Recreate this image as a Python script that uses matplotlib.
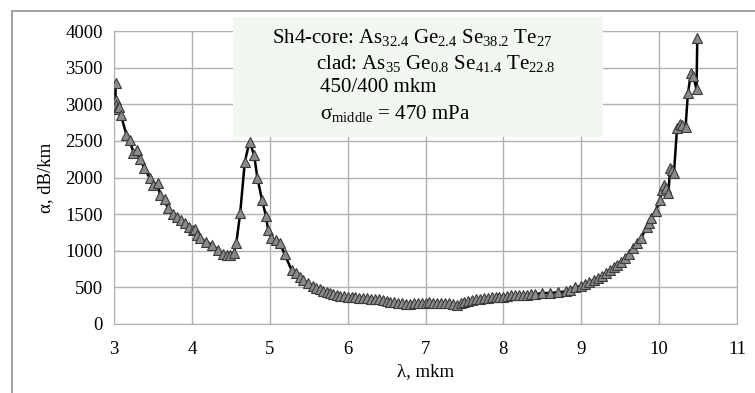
import numpy as np
import matplotlib
matplotlib.use("Agg")
import matplotlib.pyplot as plt
from matplotlib.patches import Rectangle

plt.rcParams['font.family'] = ['Liberation Serif', 'DejaVu Serif']
plt.rcParams['mathtext.fontset'] = 'custom'
plt.rcParams['mathtext.rm'] = 'Liberation Serif'
plt.rcParams['mathtext.it'] = 'Liberation Serif'
plt.rcParams['mathtext.default'] = 'regular'

# wavelength, mkm
lam = [3.02, 3.02, 3.03, 3.04, 3.06, 3.09, 3.16, 3.20, 3.25, 3.30, 3.34, 3.39,
       3.46, 3.50, 3.56, 3.59, 3.65, 3.69, 3.76, 3.81, 3.86, 3.91, 3.96, 4.01,
       4.04, 4.06, 4.10, 4.18, 4.26, 4.34, 4.40, 4.45, 4.49, 4.54, 4.57, 4.62,
       4.68, 4.74, 4.80, 4.84, 4.90, 4.95, 4.98, 5.02, 5.08, 5.13, 5.19, 5.28,
       5.34, 5.39, 5.43, 5.49, 5.56, 5.60, 5.64, 5.69, 5.73, 5.77, 5.81, 5.86,
       5.90, 5.95, 6.00, 6.05, 6.10, 6.15, 6.20, 6.25, 6.30, 6.35, 6.40, 6.45,
       6.50, 6.55, 6.60, 6.65, 6.70, 6.75, 6.80, 6.85, 6.90, 6.95, 7.00, 7.05,
       7.10, 7.15, 7.20, 7.25, 7.30, 7.35, 7.40, 7.45, 7.50, 7.55, 7.60, 7.65,
       7.70, 7.75, 7.80, 7.85, 7.90, 7.95, 8.00, 8.05, 8.10, 8.15, 8.20, 8.25,
       8.30, 8.35, 8.40, 8.50, 8.60, 8.70, 8.80, 8.86, 8.92, 9.00, 9.05, 9.10,
       9.16, 9.22, 9.27, 9.32, 9.37, 9.42, 9.46, 9.51, 9.56, 9.61, 9.67, 9.72,
       9.77, 9.84, 9.87, 9.90, 9.96, 10.01, 10.04, 10.06, 10.09, 10.12, 10.14,
       10.17, 10.19, 10.23, 10.27, 10.30, 10.34, 10.37, 10.41, 10.44, 10.48,
       10.49]

# attenuation, dB/km
alpha = [3290, 3060, 2990, 2930, 2960, 2850, 2580, 2510, 2340, 2375, 2250, 2125,
         1990, 1900, 1920, 1760, 1700, 1580, 1505, 1457, 1420, 1375, 1330, 1290,
         1300, 1215, 1170, 1125, 1080, 1010, 956, 942, 942, 975, 1100, 1510,
         2215, 2490, 2305, 2000, 1695, 1480, 1285, 1170, 1147, 1100, 956, 737,
         692, 638, 600, 564, 519, 495, 474, 455, 441, 425, 410, 395,
         382, 378, 372, 370, 362, 360, 356, 352, 348, 345, 335, 325,
         314, 305, 298, 290, 283, 278, 275, 282, 285, 290, 288, 295,
         290, 285, 282, 290, 280, 270, 265, 280, 300, 315, 325, 335,
         345, 350, 358, 362, 365, 372, 375, 385, 392, 390, 395, 400,
         402, 405, 410, 420, 425, 432, 445, 470, 500, 520, 545, 570,
         600, 625, 650, 700, 737, 780, 805, 850, 897, 950, 1033, 1100,
         1170, 1329, 1380, 1443, 1547, 1693, 1829, 1898, 1850, 1784, 2125,
         2100, 2057, 2672, 2730, 2720, 2694, 3150, 3431, 3380, 3204,
         3900]

xticks = [3, 4, 5, 6, 7, 8, 9, 10, 11]
yticks = [0, 500, 1000, 1500, 2000, 2500, 3000, 3500, 4000]

W, H = 755, 393
fig = plt.figure(figsize=(W / 100, H / 100), dpi=100)
ax = fig.add_axes([114 / W, 1 - 324 / H, (737 - 114) / W, (324 - 31) / H])

ax.plot(lam, alpha, color='black', lw=1.8, marker='^', markersize=7,
        markerfacecolor='#8a8a8a', markeredgecolor='#3a3a3a', markeredgewidth=0.8,
        zorder=3)

ax.set_xlim(3, 11)
ax.set_ylim(0, 4000)
ax.set_xticks(xticks)
ax.set_yticks(yticks)
ax.grid(True, color='#b0b0b0', lw=1.0)
ax.set_axisbelow(True)
for s in ax.spines.values():
    s.set_color('#b0b0b0')
ax.tick_params(length=0, labelsize=13.5, pad=8)
ax.tick_params(axis='x', pad=12)

ax.set_xlabel('λ, mkm', fontsize=13.5, labelpad=4)
ax.set_ylabel('α, dB/km', fontsize=13.5, labelpad=8)

# outer frame of the chart (cut by the image edges)
fig.patches.append(Rectangle((12 / W, -0.1), 1.2, 1 - 11 / H + 0.1,
                             transform=fig.transFigure, fill=False,
                             edgecolor='#909090', lw=1.2))

# note box
fig.patches.append(Rectangle((233 / W, 1 - 137 / H), (603 - 233) / W, 120 / H,
                             transform=fig.transFigure, facecolor='#f2f7f0',
                             edgecolor='none', zorder=5))

fs = 15
fig.text(272 / W, 1 - 37 / H,
         'Sh4-core: As$_{32.4}$ Ge$_{2.4}$ Se$_{38.2}$ Te$_{27}$',
         fontsize=fs, va='center', zorder=6)
fig.text(316 / W, 1 - 63 / H,
         'clad: As$_{35}$ Ge$_{0.8}$ Se$_{41.4}$ Te$_{22.8}$',
         fontsize=fs, va='center', zorder=6)
fig.text(320 / W, 1 - 88 / H, '450/400 mkm', fontsize=fs, va='center', zorder=6)
fig.text(320 / W, 1 - 114 / H, 'σ$_{middle}$ = 470 mPa', fontsize=fs,
         va='center', zorder=6)

fig.savefig('out.png', dpi=100)
